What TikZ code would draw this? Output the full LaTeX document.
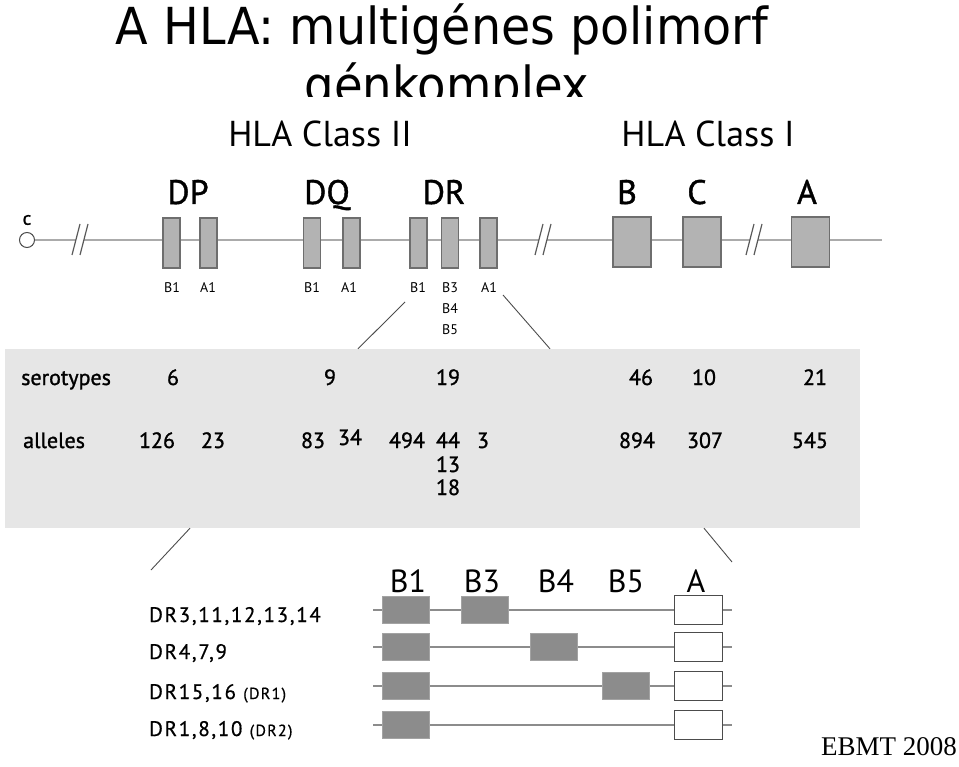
\documentclass[tikz,border=0pt]{standalone}
\usepackage{fontspec}
\usepackage{graphicx}
\newfontfamily\titlefont{DejaVu Sans}
\newfontfamily\lblfont{PT Sans}
\newfontfamily\lblheavy[FakeBold=1.2]{PT Sans}
\newfontfamily\rowfont[LetterSpace=8, FakeBold=0.6]{PT Sans}
\newfontfamily\notefont{Liberation Serif}
\usetikzlibrary{positioning,calc}

\definecolor{bandgrey}{HTML}{E6E6E6}
\definecolor{genegrey}{HTML}{B3B3B3}
\definecolor{geneedge}{HTML}{6E6E6E}
\definecolor{exongrey}{HTML}{8C8C8C}
\definecolor{chromgrey}{HTML}{ABABAB}

\begin{document}
\begin{tikzpicture}[x=1pt, y=-1pt,
  gene/.style={draw=geneedge, fill=genegrey, line width=1.2pt,
               minimum width=17pt, minimum height=50pt, inner sep=0pt},
  biggene/.style={gene, minimum width=38pt},
  chrom/.style={draw=chromgrey, line width=2.4pt},
  brkline/.style={draw=black!65, line width=1.2pt},
  pics/linebreak/.style={code={
      \fill[white] (-4,-3) rectangle (4,3);
      \draw[brkline] (-8,15) -- (0,-16);
      \draw[brkline] (0,15) -- (8,-16);}},
  band/.style={fill=bandgrey, draw=none, minimum width=855pt,
               minimum height=179pt, inner sep=0pt},
  zoomline/.style={draw=black!70, line width=0.9pt},
  exon/.style={fill=exongrey, draw=exongrey!80, line width=0.4pt,
               minimum width=47pt, minimum height=27pt, inner sep=0pt},
  aexon/.style={fill=white, draw=black!70, line width=1.5pt,
                minimum width=48pt, minimum height=29pt, inner sep=0pt},
  rowline/.style={draw=exongrey, line width=2pt},
  classlbl/.style={font=\lblfont\fontsize{36}{42}\selectfont, inner sep=0pt, anchor=base},
  locus/.style={font=\lblheavy\fontsize{34}{40}\selectfont, inner sep=0pt, anchor=base},
  sublbl/.style={font=\lblfont\fontsize{14}{16}\selectfont, inner sep=0pt, anchor=base},
  num/.style={font=\lblheavy\fontsize{22}{26}\selectfont, inner sep=0pt, anchor=base},
  drhead/.style={font=\lblfont\fontsize{32}{38}\selectfont, inner sep=0pt, anchor=base},
  rowlbl/.style={font=\rowfont\fontsize{21}{25}\selectfont, inner sep=0pt, anchor=base west}]

\useasboundingbox (0,0) rectangle (959,767);

% Title (second line is cut off by the figure)
\node[anchor=base, inner sep=0pt] (title) at (442,45)
  {\resizebox{652pt}{\height}{\titlefont\fontsize{51}{60}\selectfont A HLA: multigénes polimorf}};
\begin{scope}
  \clip (0,0) rectangle (959,97);
  \node[anchor=base, inner sep=0pt] (title2) at (447,104)
    {\resizebox{285pt}{\height}{\titlefont\fontsize{51}{60}\selectfont génkomplex}};
\end{scope}

% Class headers
\node[classlbl] (cls2) at (320,147) {HLA Class II};
\node[classlbl] (cls1) at (708,147) {HLA Class I};

% Chromosome
\node[circle, draw=black!70, line width=1pt, minimum size=15pt, inner sep=0pt] (cen) at (27,240) {};
\node[font=\lblheavy\fontsize{19}{22}\selectfont, inner sep=0pt] (cenl) at (27,220) {c};
\coordinate (chromend) at (882,240);
\draw[chrom] (cen.east) -- (chromend);
\pic at (80,240) {linebreak};
\pic at (543,240) {linebreak};
\pic at (754,240) {linebreak};

% Class II genes
\node[gene] (dpb1) at (171.5,243) {};
\node[gene] (dpa1) at (208.5,243) {};
\node[gene] (dqb1) at (312,243) {};
\node[gene] (dqa1) at (351.5,243) {};
\node[gene] (drb1) at (418.5,243) {};
\node[gene] (drb3) at (450,243) {};
\node[gene] (dra1) at (488.5,243) {};

% Class I genes
\node[biggene] (hlab) at (632,242) {};
\node[biggene] (hlac) at (702,242) {};
\node[biggene] (hlaa) at (810.5,242) {};

% Locus names
\node[locus] (lbldp) at (188,204) {DP};
\node[locus] (lbldq) at (327,204) {DQ};
\node[locus] (lbldr) at (444,204) {DR};
\node[locus] (lblb) at (627,204) {B};
\node[locus] (lblc) at (697,204) {C};
\node[locus] (lbla) at (807,204) {A};

% Gene names under the boxes
\node[sublbl] (sdpb1) at (172,293) {B1};
\node[sublbl] (sdpa1) at (208,293) {A1};
\node[sublbl] (sdqb1) at (312,293) {B1};
\node[sublbl] (sdqa1) at (349,293) {A1};
\node[sublbl] (sdrb1) at (418,293) {B1};
\node[sublbl] (sdrb3) at (450,293) {B3};
\node[sublbl] (sdrb4) at (450,314) {B4};
\node[sublbl] (sdrb5) at (450,335) {B5};
\node[sublbl] (sdra1) at (489,293) {A1};

% Grey band with numbers
\node[band] (band) at (432.5,438.5) {};
\coordinate (zoomtl) at (405,302);
\coordinate (zoomtr) at (503,295);
\draw[zoomline] (zoomtl) -- (band.north -| 358,0);
\draw[zoomline] (zoomtr) -- (band.north -| 550,0);

\node[num, anchor=base west] (sero) at (21,385) {serotypes};
\node[num] (sdp) at (173,385) {6};
\node[num] (sdq) at (330,385) {9};
\node[num] (sdr) at (448,385) {19};
\node[num] (sb) at (641,385) {46};
\node[num] (sc) at (704,385) {10};
\node[num] (sa) at (815,385) {21};

\node[num, anchor=base west] (alle) at (23,448) {alleles};
\node[num] (adpb1) at (157,448) {126};
\node[num] (adpa1) at (213,448) {23};
\node[num] (adqb1) at (313,448) {83};
\node[num] (adqa1) at (350,445) {34};
\node[num] (adrb1) at (407,448) {494};
\node[num] (adrb3) at (448,448) {44};
\node[num] (adrb4) at (448,472) {13};
\node[num] (adrb5) at (448,495) {18};
\node[num] (adra1) at (483,448) {3};
\node[num] (ab) at (637,448) {894};
\node[num] (ac) at (705,448) {307};
\node[num] (aa) at (810,448) {545};

% Zoom on DR haplotypes
\coordinate (zoombl) at (151,570);
\coordinate (zoombr) at (732,562);
\draw[zoomline] (band.south -| 190,0) -- (zoombl);
\draw[zoomline] (band.south -| 704,0) -- (zoombr);

\node[drhead] (hb1) at (408,592) {B1};
\node[drhead] (hb3) at (482,592) {B3};
\node[drhead] (hb4) at (556,592) {B4};
\node[drhead] (hb5) at (626,592) {B5};
\node[drhead] (ha) at (696,592) {A};

% row 1
\coordinate (r1s) at (373,610);
\coordinate (r1e) at (732,610);
\draw[rowline] (r1s) -- (r1e);
\node[exon] (r1b1) at (405.5,610) {};
\node[exon] (r1b3) at (485,610) {};
\node[aexon] (r1a) at (698.5,610) {};
\node[rowlbl] (r1l) at (149,622) {DR3,11,12,13,14};

% row 2
\coordinate (r2s) at (373,647);
\coordinate (r2e) at (732,647);
\draw[rowline] (r2s) -- (r2e);
\node[exon] (r2b1) at (405.5,647) {};
\node[exon] (r2b4) at (554,647) {};
\node[aexon] (r2a) at (698.5,647) {};
\node[rowlbl] (r2l) at (149,659) {DR4,7,9};

% row 3
\coordinate (r3s) at (373,686);
\coordinate (r3e) at (732,686);
\draw[rowline] (r3s) -- (r3e);
\node[exon] (r3b1) at (405.5,686) {};
\node[exon] (r3b5) at (625.5,686) {};
\node[aexon] (r3a) at (698.5,686) {};
\node[rowlbl] (r3l) at (149,699) {DR15,16 {\fontsize{16}{18}\selectfont(DR1)}};

% row 4
\coordinate (r4s) at (373,725);
\coordinate (r4e) at (732,725);
\draw[rowline] (r4s) -- (r4e);
\node[exon] (r4b1) at (405.5,725) {};
\node[aexon] (r4a) at (698.5,725) {};
\node[rowlbl] (r4l) at (149,736) {DR1,8,10 {\fontsize{16}{18}\selectfont(DR2)}};

% Source
\node[anchor=base east, inner sep=0pt, font=\notefont\fontsize{27}{32}\selectfont] (src) at (957,755) {EBMT 2008};

\end{tikzpicture}
\end{document}
